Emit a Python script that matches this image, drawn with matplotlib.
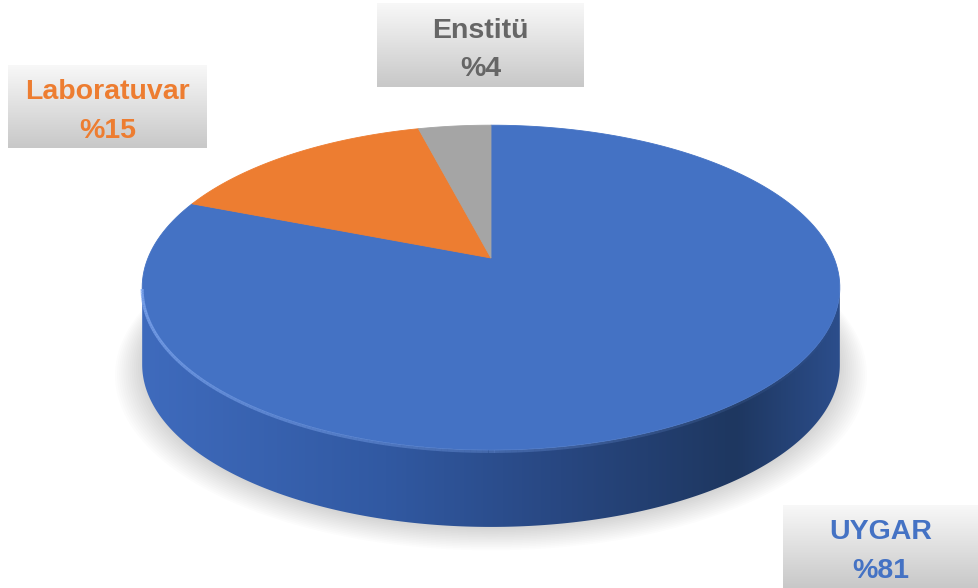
import numpy as np
import matplotlib
matplotlib.use('Agg')
import matplotlib.pyplot as plt
from matplotlib.patches import Polygon
from matplotlib.colors import LinearSegmentedColormap

# ---- data ----
categories = ['UYGAR', 'Laboratuvar', 'Enstitü']
values = [81, 15, 4]
pct_labels = ['%81', '%15', '%4']
colors = ['#4472C4', '#ED7D31', '#A5A5A5']
text_colors = ['#4472C4', '#ED7D31', '#666666']

W, H = 979, 588
fig = plt.figure(figsize=(W / 100, H / 100), dpi=100)
ax = fig.add_axes([0, 0, 1, 1])
ax.set_xlim(0, W)
ax.set_ylim(H, 0)
ax.axis('off')

# projection of a tilted disc (pixel space, y down)
cx, cy = 491, 258
A, B, K = 343, 157, 0.182
D = 77


def proj(t, dz=0.0, s=1.0):
    u, v = np.cos(t), np.sin(t)
    w = 1 + K * v
    return cx + s * A * u / w, cy - s * B * v / w + dz


# ---- shadow ----
tt = np.linspace(0, 2 * np.pi, 400)
for i in range(14):
    s = 1.0 + 0.006 * i
    x, y = proj(tt, D + 2 + i * 0.5, s)
    ax.fill(x, y, color='#000000', alpha=0.012, lw=0, zorder=1)

# ---- side wall ----
t0 = np.pi + np.arcsin(K)
t1 = 2 * np.pi - np.arcsin(K)
ts = np.linspace(t0, t1, 300)
xt, yt = proj(ts)
xb, yb = proj(ts[::-1], D)
side = Polygon(np.column_stack([np.r_[xt, xb], np.r_[yt, yb]]), closed=True,
               facecolor='none', edgecolor='none')
ax.add_patch(side)
side_cmap = LinearSegmentedColormap.from_list(
    'side', [(0.0, '#3F6BBD'), (0.35, '#3159A2'), (0.6, '#284781'),
             (0.85, '#1E3760'), (1.0, '#2C4E8C')])
xmin, xmax = xt.min() - 2, xt.max() + 2
grad = np.linspace(0, 1, 256)[None, :]
im = ax.imshow(grad, extent=[xmin, xmax, yb.max() + 2, yt.min() - 2],
               aspect='auto', cmap=side_cmap, zorder=2, interpolation='bilinear')
im.set_clip_path(side)

# ---- top face slices ----
total = float(sum(values))
start = np.pi / 2
cum = 0.0
for val, col in zip(values, colors):
    a_start = start - 2 * np.pi * cum / total
    cum += val
    a_end = start - 2 * np.pi * cum / total
    t = np.linspace(a_start, a_end, 200)
    x, y = proj(t)
    ax.fill(np.r_[cx, x], np.r_[cy, y], color=col, lw=0.6, ec=col, zorder=3)

# ---- highlight along the front rim ----
th = np.linspace(t0, t1, 200)
xh, yh = proj(th, 1.5)
for j in range(len(th) - 1):
    f = j / (len(th) - 1)
    alpha = 0.85 * (1 - f) ** 1.5
    ax.plot(xh[j:j + 2], yh[j:j + 2], color='#7EA6EE', lw=2.2, alpha=alpha,
            solid_capstyle='butt', zorder=4)

# ---- labels ----
box_cmap = LinearSegmentedColormap.from_list('box', ['#F8F8F8', '#C8C8C8'])
vgrad = np.linspace(0, 1, 128)[:, None]
boxes = {
    'UYGAR': (783, 505, 979, 588),
    'Laboratuvar': (8, 65, 207, 148),
    'Enstitü': (377, 3, 584, 87),
}
family = ['Liberation Sans', 'DejaVu Sans']
for cat, pct, tc in zip(categories, pct_labels, text_colors):
    x0, y0, x1, y1 = boxes[cat]
    ax.imshow(vgrad, extent=[x0, x1, y1, y0], aspect='auto', cmap=box_cmap,
              zorder=5, interpolation='bilinear')
    xm = (x0 + x1) / 2
    h = y1 - y0
    ax.text(xm, y0 + h * 0.33, cat, ha='center', va='center', color=tc,
            fontsize=20.5, fontweight='bold', family=family, zorder=6)
    ax.text(xm, y0 + h * 0.79, pct, ha='center', va='center', color=tc,
            fontsize=20.5, fontweight='bold', family=family, zorder=6)

ax.set_xlim(0, W)
ax.set_ylim(H, 0)
fig.savefig('out.png', dpi=100)
